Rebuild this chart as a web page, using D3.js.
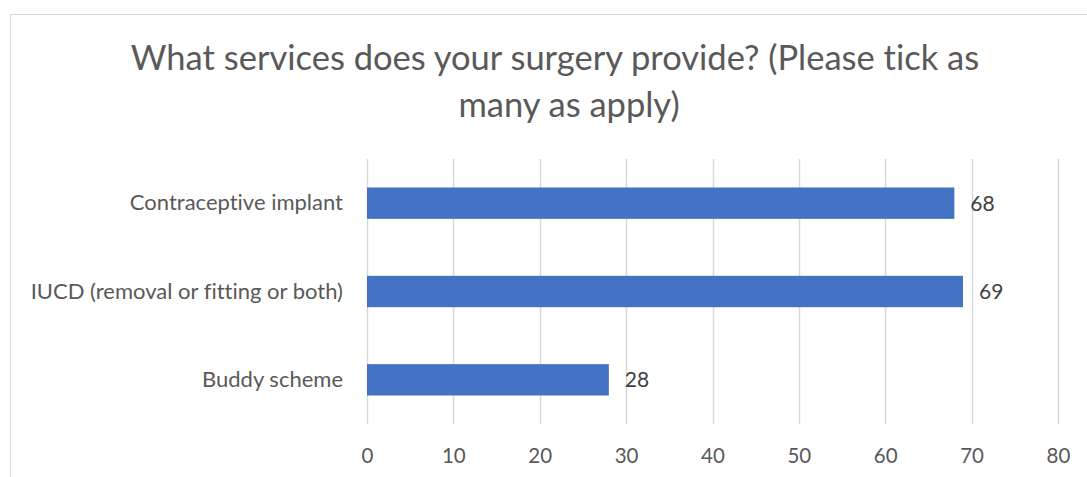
<!DOCTYPE html>
<html>
<head>
<meta charset="utf-8">
<script src="https://cdn.jsdelivr.net/npm/d3@7"></script>
<style>
  html, body { margin: 0; padding: 0; background: #fff; }
  svg { display: block; font-family: Lato, "Open Sans", sans-serif; font-variant-ligatures: none; }
</style>
</head>
<body>
<svg id="chart" width="1087" height="477"></svg>
<script>
// Survey responses: services offered by the surgery
const categories = ["Contraceptive implant", "IUCD (removal or fitting or both)", "Buddy scheme"];
const counts = [68, 69, 28];
const xTicks = [0, 10, 20, 30, 40, 50, 60, 70, 80];
const titleLines = ["What services does your surgery provide? (Please tick as", "many as apply)"];

const svg = d3.select("#chart");

// chart frame
svg.append("rect")
  .attr("x", 10.5).attr("y", 14.5)
  .attr("width", 1100).attr("height", 500)
  .attr("fill", "none").attr("stroke", "#d9d9d9").attr("stroke-width", 1);

const plot = { left: 367, right: 1058, top: 159, bottom: 424 };

const x = d3.scaleLinear().domain([0, 80]).range([plot.left, plot.right]);
const y = d3.scaleBand().domain(categories).range([plot.top, plot.bottom]).paddingInner(0.645).paddingOuter(0.3225);

// vertical gridlines
svg.append("g").selectAll("line").data(xTicks).join("line")
  .attr("x1", d => Math.round(x(d)) + 0.5).attr("x2", d => Math.round(x(d)) + 0.5)
  .attr("y1", plot.top).attr("y2", plot.bottom)
  .attr("stroke", "#d9d9d9").attr("stroke-width", 1.5);

// x axis labels
const xAxis = d3.axisBottom(x).tickValues(xTicks).tickSize(0).tickPadding(0);
const gx = svg.append("g").attr("transform", `translate(0,${plot.bottom})`).call(xAxis);
gx.select(".domain").remove();
gx.selectAll("text")
  .attr("dy", null).attr("y", 39)
  .attr("font-family", "Lato, sans-serif")
  .attr("font-size", 20.5).attr("fill", "#595959");

// category labels
const yAxis = d3.axisLeft(y).tickSize(0).tickPadding(0);
const gy = svg.append("g").attr("transform", `translate(343,0)`).call(yAxis);
gy.select(".domain").remove();
gy.selectAll("text")
  .attr("font-family", "Lato, sans-serif")
  .attr("font-size", 22).attr("fill", "#595959");

// bars
svg.append("g").selectAll("rect").data(categories).join("rect")
  .attr("x", x(0))
  .attr("y", d => y(d))
  .attr("width", (d, i) => x(counts[i]) - x(0))
  .attr("height", y.bandwidth())
  .attr("fill", "#4472c4");

// value labels
svg.append("g").selectAll("text").data(categories).join("text")
  .attr("x", (d, i) => x(counts[i]) + 16)
  .attr("y", d => y(d) + y.bandwidth() / 2)
  .attr("dy", "0.35em")
  .attr("font-family", "Lato, sans-serif")
  .attr("font-size", 21).attr("fill", "#404040")
  .text((d, i) => counts[i]);

// title
const title = svg.append("text")
  .attr("font-family", "Lato, sans-serif")
  .attr("font-size", 34.5).attr("fill", "#595959")
  .attr("text-anchor", "middle");
title.append("tspan").attr("x", 555).attr("y", 70).text(titleLines[0]);
title.append("tspan").attr("x", 569).attr("y", 116.5).text(titleLines[1]);
</script>
</body>
</html>
